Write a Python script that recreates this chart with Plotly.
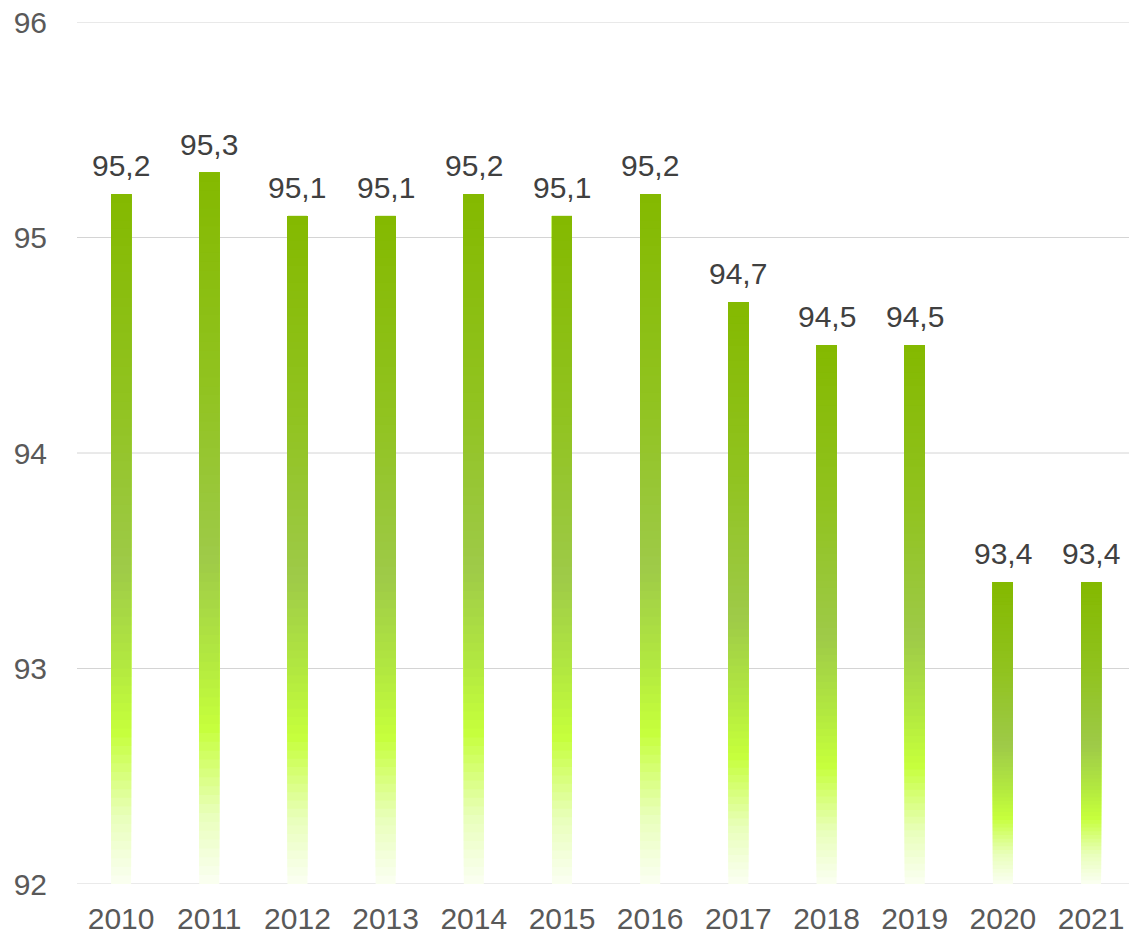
import plotly.graph_objects as go

years = ["2010", "2011", "2012", "2013", "2014", "2015", "2016", "2017", "2018", "2019", "2020", "2021"]
values = [95.2, 95.3, 95.1, 95.1, 95.2, 95.1, 95.2, 94.7, 94.5, 94.5, 93.4, 93.4]
labels = ["95,2", "95,3", "95,1", "95,1", "95,2", "95,1", "95,2", "94,7", "94,5", "94,5", "93,4", "93,4"]
y_min = 92
y_max = 96
y_ticks = [92, 93, 94, 95, 96]

# gradient stops: fraction from bottom of bar -> colour
stops = [(0.0, (251, 255, 243)), (0.10, (232, 255, 185)), (0.22, (198, 255, 60)),
         (0.32, (178, 232, 64)), (0.46, (158, 202, 72)), (0.70, (145, 195, 32)),
         (1.0, (132, 185, 0))]

def grad(t):
    for (t0, c0), (t1, c1) in zip(stops[:-1], stops[1:]):
        if t <= t1:
            f = (t - t0) / (t1 - t0) if t1 > t0 else 0
            return "rgb(%d,%d,%d)" % tuple(round(a + (b - a) * f) for a, b in zip(c0, c1))
    return "rgb(%d,%d,%d)" % stops[-1][1]

xs = list(range(len(years)))
N = 80
fig = go.Figure()
for i in range(N):
    t = i / N
    bases = [y_min + (v - y_min) * t for v in values]
    heights = [v - b for v, b in zip(values, bases)]
    fig.add_trace(go.Bar(
        x=xs, y=heights, base=bases, width=0.227,
        marker=dict(color=grad(t + 0.5 / N), line=dict(width=0)),
        showlegend=False, hoverinfo="skip"))

for xi, v, lab in zip(xs, values, labels):
    fig.add_annotation(x=xi, y=v, text=lab, showarrow=False, yanchor="bottom",
                       yshift=10, font=dict(family="Liberation Sans, Arial", size=30, color="#404040"))

for yt in y_ticks:
    fig.add_shape(type="line", xref="paper", x0=0, x1=1, yref="y", y0=yt, y1=yt,
                  line=dict(color="#d4d4d4", width=1), layer="below")

fig.update_layout(
    barmode="overlay",
    width=1129, height=939,
    margin=dict(l=77, r=0, t=22, b=55),
    paper_bgcolor="white", plot_bgcolor="white",
    font=dict(family="Liberation Sans, Arial", size=30, color="#595959"),
    xaxis=dict(range=[-0.5, 11.43], showgrid=False, showline=False, zeroline=False,
               ticks="", tickmode="array", tickvals=xs, ticktext=years,
               ticklabelstandoff=14, automargin=False,
               tickfont=dict(size=30, color="#595959")),
    yaxis=dict(range=[y_min, y_max], tickvals=y_ticks, showgrid=False,
               zeroline=False, showline=False, ticks="", automargin=False,
               ticklabelstandoff=29, tickfont=dict(size=30, color="#595959")),
)
fig.write_html("out.html", config={"displayModeBar": False},
               post_script="document.body.style.margin='0';document.body.style.overflow='hidden';")
